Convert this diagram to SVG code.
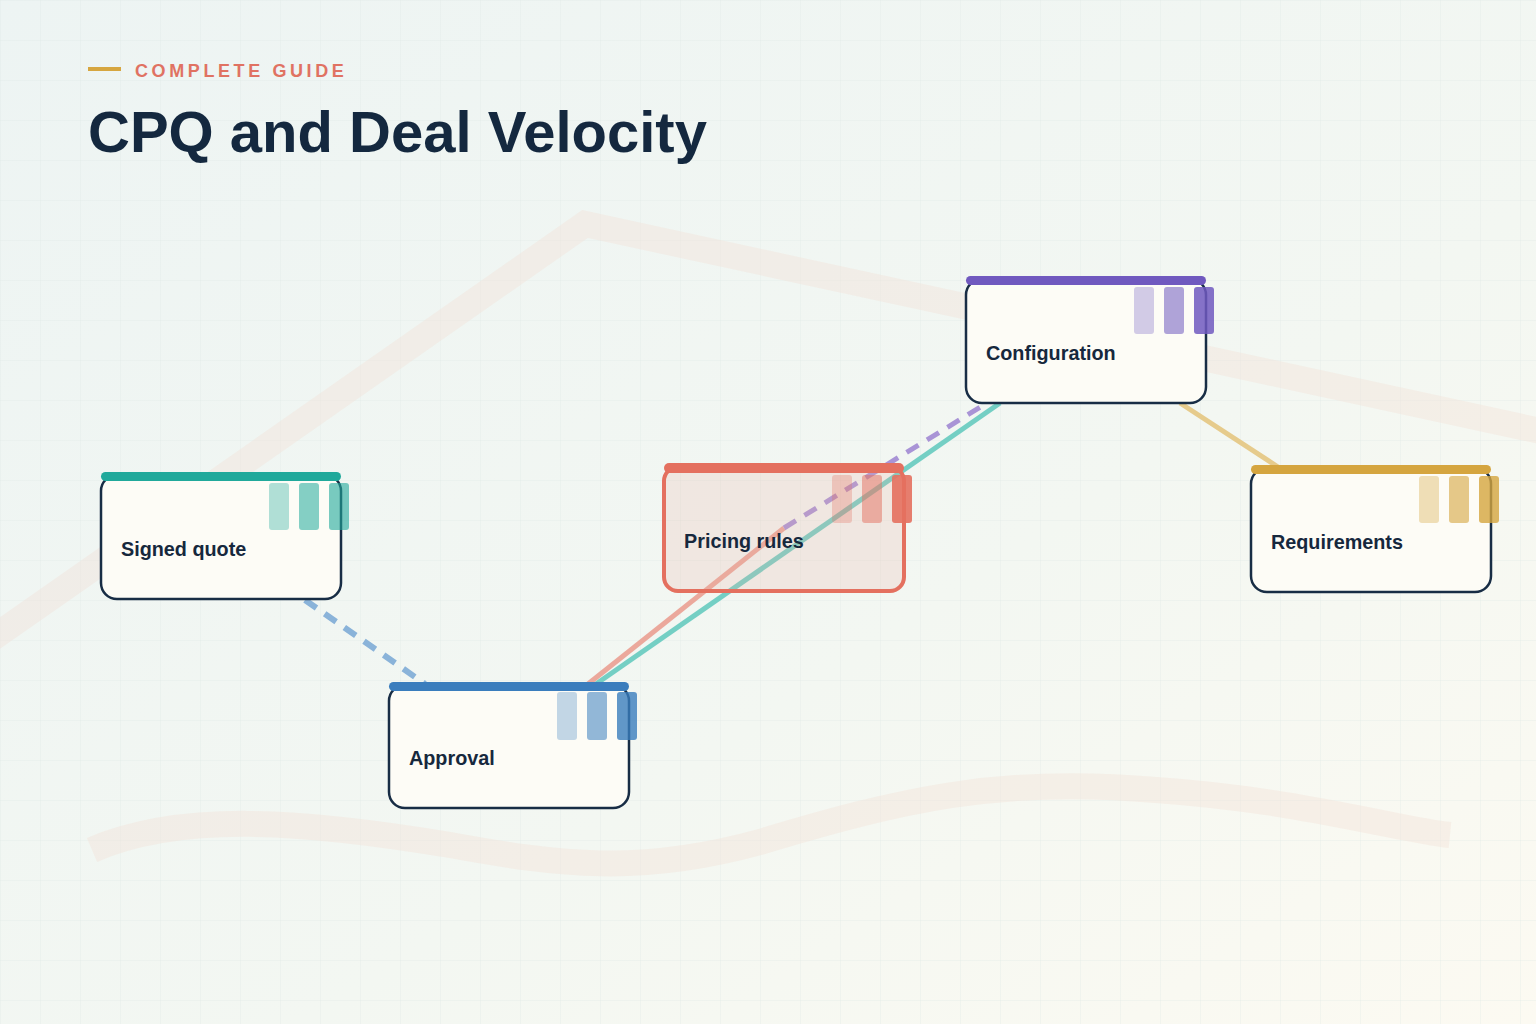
<svg xmlns="http://www.w3.org/2000/svg" width="1536" height="1024" viewBox="0 0 1536 1024">
<defs>
<linearGradient id="bg" x1="0" y1="0" x2="1" y2="1">
<stop offset="0" stop-color="#edf4f3"/>
<stop offset="0.6" stop-color="#f3f7f2"/>
<stop offset="1" stop-color="#fcfaf2"/>
</linearGradient>
<pattern id="grid" width="40" height="40" patternUnits="userSpaceOnUse">
<path d="M40 0H0V40" fill="none" stroke="#dfe8e5" stroke-width="1" opacity="0.6"/>
</pattern>
<style>
.box{fill:#fdfcf6;stroke:#182d45;stroke-width:2.5}
.lbl{font-family:"Liberation Sans",Arial,sans-serif;font-weight:700;font-size:19.8px;fill:#16283d}
</style>
</defs>
<rect width="1536" height="1024" fill="url(#bg)"/>
<rect width="1536" height="1024" fill="url(#grid)"/>
<g id="decor" fill="none" stroke="#f2e0d8" stroke-width="26" opacity="0.4">
<path d="M-10 640 L585 224 L1545 432"/>
<path d="M92 850 C180 812 300 820 450 845 C560 865 640 875 760 842 C900 800 1000 776 1156 790 C1300 800 1400 830 1450 835"/>
</g>
<g id="header">
<line x1="88" y1="69" x2="121" y2="69" stroke="#d6a640" stroke-width="4"/>
<text x="135" y="77" font-family="Liberation Sans,Arial,sans-serif" font-weight="700" font-size="18" letter-spacing="3.6" fill="#e07262">COMPLETE GUIDE</text>
<text x="88" y="152" font-family="Liberation Sans,Arial,sans-serif" font-weight="700" font-size="58" fill="#14283f">CPQ and Deal Velocity</text>
</g>
<g id="connectors" fill="none" stroke-width="6">
<path d="M305 600 L425 684" stroke="#8ab3d9" stroke-dasharray="14 10"/>
<path d="M596 684 L1000 403" stroke="#74cfc4" stroke-width="5"/>
<path d="M588 684 L784 528" stroke="#eba89c" stroke-width="5"/>
<path d="M784 528 L982 406" stroke="#a994d6" stroke-dasharray="14 10" stroke-width="5"/>
<path d="M1180 403 L1278 467" stroke="#e6cb8c" stroke-width="5"/>
</g>
<g id="node-signed-quote">
<rect class="box" x="101" y="475" width="240" height="124" rx="16"/>
<rect x="101" y="472" width="240" height="9" rx="4.5" fill="#20a99b"/>
<rect x="269" y="483" width="20" height="47" rx="3" fill="#20a99b" opacity="0.35"/>
<rect x="299" y="483" width="20" height="47" rx="3" fill="#20a99b" opacity="0.55"/>
<rect x="329" y="483" width="20" height="47" rx="3" fill="#20a99b" opacity="0.6"/>
<text class="lbl" x="121" y="556">Signed quote</text>
</g>
<g id="node-approval">
<rect class="box" x="389" y="685" width="240" height="123" rx="16"/>
<rect x="389" y="682" width="240" height="9" rx="4.5" fill="#3a7dbd"/>
<rect x="557" y="692" width="20" height="48" rx="3" fill="#3a7dbd" opacity="0.3"/>
<rect x="587" y="692" width="20" height="48" rx="3" fill="#3a7dbd" opacity="0.55"/>
<rect x="617" y="692" width="20" height="48" rx="3" fill="#3a7dbd" opacity="0.8"/>
<text class="lbl" x="409" y="765">Approval</text>
</g>
<g id="node-pricing-rules">
<rect x="664" y="467" width="240" height="124" rx="14" fill="#e6b2a5" fill-opacity="0.22" stroke="#e4705f" stroke-width="4"/>
<rect x="664" y="463" width="240" height="10" rx="5" fill="#e4705f"/>
<rect x="832" y="475" width="20" height="48" rx="3" fill="#e4705f" opacity="0.3"/>
<rect x="862" y="475" width="20" height="48" rx="3" fill="#e4705f" opacity="0.5"/>
<rect x="892" y="475" width="20" height="48" rx="3" fill="#e4705f" opacity="0.9"/>
<text class="lbl" x="684" y="548">Pricing rules</text>
</g>
<g id="node-configuration">
<rect class="box" x="966" y="279" width="240" height="124" rx="16"/>
<rect x="966" y="276" width="240" height="9" rx="4.5" fill="#7059bf"/>
<rect x="1134" y="287" width="20" height="47" rx="3" fill="#7059bf" opacity="0.3"/>
<rect x="1164" y="287" width="20" height="47" rx="3" fill="#7059bf" opacity="0.55"/>
<rect x="1194" y="287" width="20" height="47" rx="3" fill="#7059bf" opacity="0.85"/>
<text class="lbl" x="986" y="360">Configuration</text>
</g>
<g id="node-requirements">
<rect class="box" x="1251" y="468" width="240" height="124" rx="16"/>
<rect x="1251" y="465" width="240" height="9" rx="4.5" fill="#d5a53f"/>
<rect x="1419" y="476" width="20" height="47" rx="3" fill="#d5a53f" opacity="0.35"/>
<rect x="1449" y="476" width="20" height="47" rx="3" fill="#d5a53f" opacity="0.6"/>
<rect x="1479" y="476" width="20" height="47" rx="3" fill="#d5a53f" opacity="0.8"/>
<text class="lbl" x="1271" y="549">Requirements</text>
</g>
</svg>
